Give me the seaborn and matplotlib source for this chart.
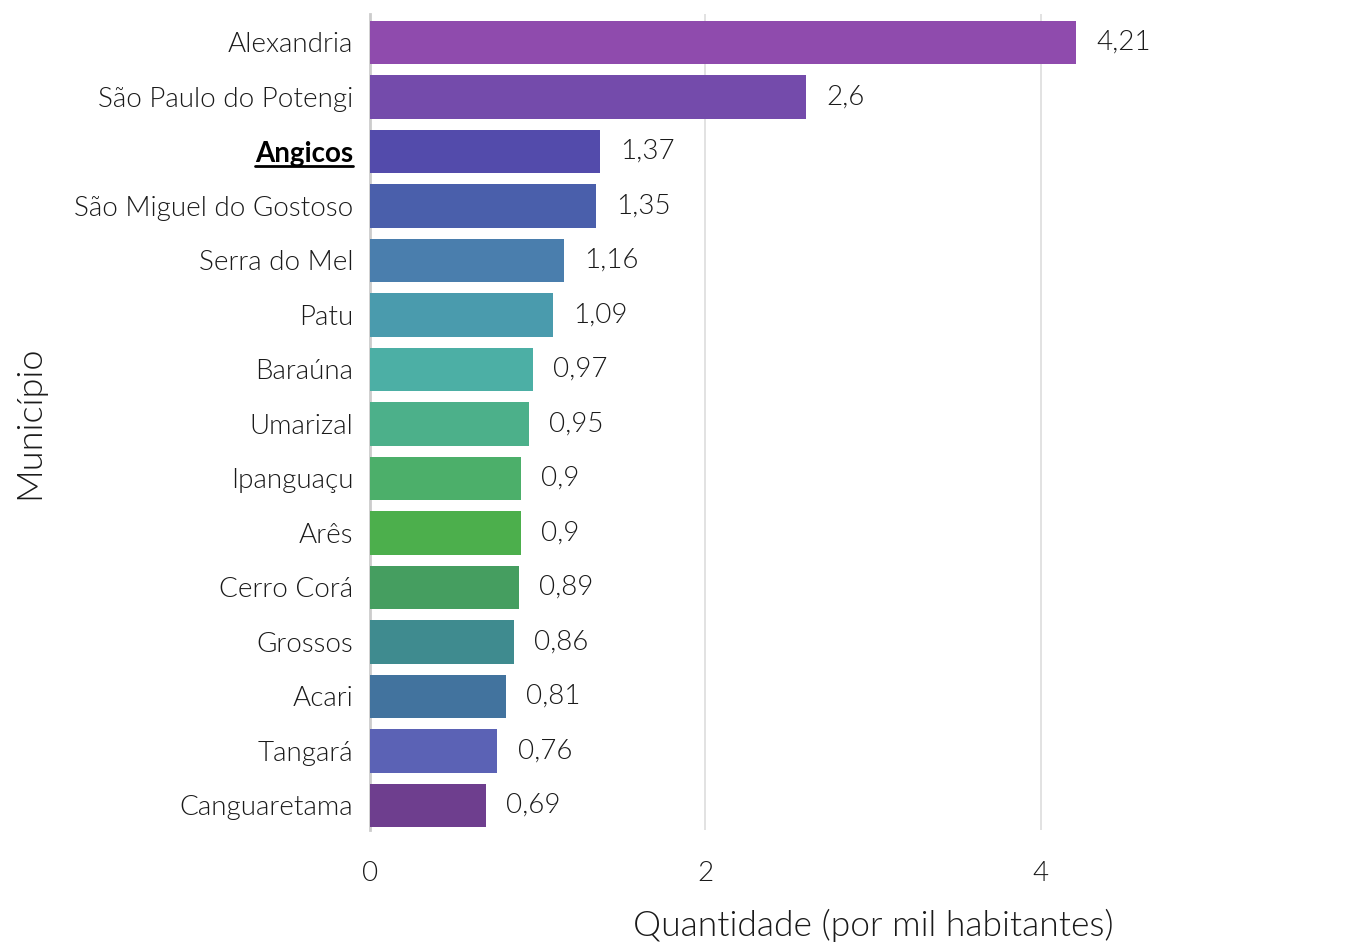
import matplotlib
matplotlib.use('Agg')
import matplotlib.pyplot as plt
import seaborn as sns
import pandas as pd

municipios = ['Alexandria', 'São Paulo do Potengi', 'Angicos', 'São Miguel do Gostoso',
              'Serra do Mel', 'Patu', 'Baraúna', 'Umarizal', 'Ipanguaçu', 'Arês',
              'Cerro Corá', 'Grossos', 'Acari', 'Tangará', 'Canguaretama']
quantidade = [4.21, 2.6, 1.37, 1.35, 1.16, 1.09, 0.97, 0.95, 0.9, 0.9,
              0.89, 0.86, 0.81, 0.76, 0.69]
cores = ['#8F4BAD', '#744BAB', '#534BAB', '#4A5FAB', '#4A7EAD', '#4A9BAD',
         '#4CAFA5', '#4CB08A', '#4CAF6A', '#4CAF4C', '#459E60', '#3F8B8F',
         '#42739E', '#5B62B5', '#6E3E8E']
destaque = 'Angicos'

sns.set_theme(style='white')
plt.rcParams['font.family'] = ['Lato', 'DejaVu Sans']
LEVE = 300  # Lato Light
COR_TEXTO = '#1a1a1a'

df = pd.DataFrame({'Município': municipios, 'Quantidade': quantidade})

fig = plt.figure(figsize=(13.66, 9.44), dpi=100)
ax = fig.add_axes([370 / 1366, 1 - 830 / 944, 1006 / 1366, 816 / 944])

sns.barplot(data=df, x='Quantidade', y='Município', hue='Município',
            palette=cores, legend=False, orient='h', width=0.8, ax=ax,
            saturation=1, linewidth=0, zorder=3)

ax.set_xlim(0, 6)
ax.set_ylim(14.45, -0.52)
ax.set_xticks([0, 2, 4])
ax.grid(axis='x', color='#dddddd', linewidth=1.2, zorder=0)
for s in ['top', 'right', 'bottom']:
    ax.spines[s].set_visible(False)
ax.spines['left'].set_color('#cccccc')
ax.spines['left'].set_linewidth(2)
ax.tick_params(axis='both', length=0, labelsize=20, labelcolor=COR_TEXTO)
ax.tick_params(axis='x', pad=22)
ax.tick_params(axis='y', pad=12)
for t in ax.get_xticklabels() + ax.get_yticklabels():
    t.set_fontweight(LEVE)

for i, v in enumerate(quantidade):
    ax.text(v + 0.12, i, f'{v:g}'.replace('.', ','), va='center', ha='left',
            fontsize=20, fontweight=LEVE, color=COR_TEXTO)

ax.set_xlabel('Quantidade (por mil habitantes)', fontsize=25.5, fontweight=LEVE,
              color=COR_TEXTO, labelpad=17)
ax.set_ylabel('Município', fontsize=26, fontweight=LEVE, color=COR_TEXTO)
ax.yaxis.set_label_coords(-0.323, 0.5)

fig.canvas.draw()
for t in ax.get_yticklabels():
    if t.get_text() == destaque:
        t.set_fontweight('bold')
        t.set_color('black')
fig.canvas.draw()
renderer = fig.canvas.get_renderer()
for t in ax.get_yticklabels():
    if t.get_text() == destaque:
        bb = t.get_window_extent(renderer)
        y = bb.y0 + 1
        fig.add_artist(plt.Line2D([bb.x0 / fig.bbox.width, bb.x1 / fig.bbox.width],
                                  [y / fig.bbox.height, y / fig.bbox.height],
                                  color='black', linewidth=2))

fig.savefig('out.png', dpi=100)
